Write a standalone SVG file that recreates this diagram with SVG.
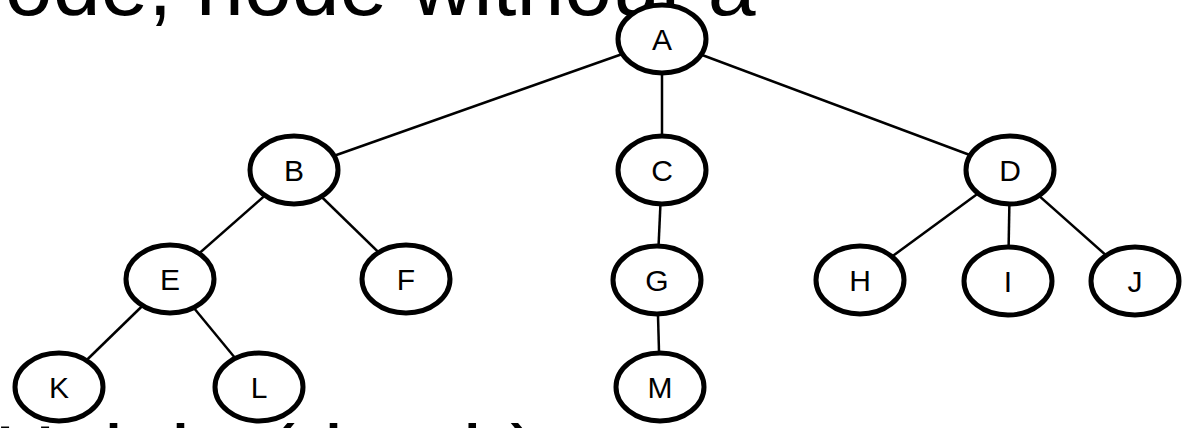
<svg xmlns="http://www.w3.org/2000/svg" width="1184" height="428" viewBox="0 0 1184 428">
  <style>
    .bg { font-family: "Liberation Sans", Arial, sans-serif; font-size: 86px; fill: #000; }
    .edge { stroke: #000; stroke-width: 2.5; fill: none; }
    .node ellipse { fill: #fff; stroke: #000; stroke-width: 5; }
    .node text { font-family: "Liberation Sans", Arial, sans-serif; font-size: 30px; fill: #000; text-anchor: middle; }
  </style>
  <rect width="1184" height="428" fill="#fff"/>

  <!-- slide text running behind the tree -->
  <text class="bg" x="-43" y="15">node, node without a</text>
  <text class="bg" x="-6" y="485">Height (depth)</text>

  <!-- connectors -->
  <g id="edges">
    <line class="edge" x1="662" y1="40" x2="294" y2="170"/>
    <line class="edge" x1="662" y1="40" x2="662" y2="170"/>
    <line class="edge" x1="662" y1="40" x2="1010" y2="170"/>
    <line class="edge" x1="294" y1="170" x2="170" y2="279"/>
    <line class="edge" x1="294" y1="170" x2="406" y2="279"/>
    <line class="edge" x1="662" y1="170" x2="657" y2="280"/>
    <line class="edge" x1="1010" y1="170" x2="860" y2="280"/>
    <line class="edge" x1="1010" y1="170" x2="1008" y2="281"/>
    <line class="edge" x1="1010" y1="170" x2="1135" y2="281"/>
    <line class="edge" x1="170" y1="279" x2="59" y2="387"/>
    <line class="edge" x1="170" y1="279" x2="259" y2="387"/>
    <line class="edge" x1="657" y1="280" x2="660" y2="387"/>
  </g>

  <!-- nodes -->
  <g id="node-A" class="node"><ellipse cx="662" cy="39" rx="44" ry="34"/><text x="662" y="50">A</text></g>
  <g id="node-B" class="node"><ellipse cx="294" cy="170" rx="44" ry="34"/><text x="294" y="181">B</text></g>
  <g id="node-C" class="node"><ellipse cx="662" cy="170" rx="44" ry="34"/><text x="662" y="181">C</text></g>
  <g id="node-D" class="node"><ellipse cx="1010" cy="170" rx="44" ry="34"/><text x="1010" y="181">D</text></g>
  <g id="node-E" class="node"><ellipse cx="170" cy="279" rx="44" ry="34"/><text x="170" y="290">E</text></g>
  <g id="node-F" class="node"><ellipse cx="406" cy="279" rx="44" ry="34"/><text x="406" y="290">F</text></g>
  <g id="node-G" class="node"><ellipse cx="657" cy="280" rx="44" ry="34"/><text x="657" y="291">G</text></g>
  <g id="node-H" class="node"><ellipse cx="860" cy="280" rx="44" ry="34"/><text x="860" y="291">H</text></g>
  <g id="node-I" class="node"><ellipse cx="1008" cy="281" rx="44" ry="34"/><text x="1008" y="292">I</text></g>
  <g id="node-J" class="node"><ellipse cx="1135" cy="281" rx="44" ry="34"/><text x="1135" y="292">J</text></g>
  <g id="node-K" class="node"><ellipse cx="59" cy="387" rx="44" ry="34"/><text x="59" y="398">K</text></g>
  <g id="node-L" class="node"><ellipse cx="259" cy="387" rx="44" ry="34"/><text x="259" y="398">L</text></g>
  <g id="node-M" class="node"><ellipse cx="660" cy="387" rx="44" ry="34"/><text x="660" y="398">M</text></g>
</svg>
